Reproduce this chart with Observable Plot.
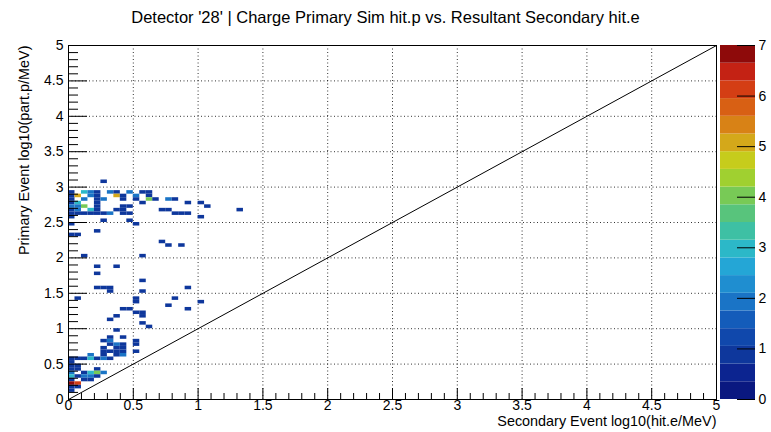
<!DOCTYPE html>
<html><head><meta charset="utf-8">
<script src="https://cdn.jsdelivr.net/npm/d3@7"></script>
<script src="https://cdn.jsdelivr.net/npm/@observablehq/plot@0.6"></script>
<style>
body{margin:0;background:#fff;font-family:"Liberation Sans",Arial,sans-serif}
#wrap{position:relative;width:771px;height:432px;overflow:hidden;background:#fff}
#title{position:absolute;left:0;top:7px;width:771px;text-align:center;font-size:16.5px;line-height:20px;color:#000;font-family:"Liberation Sans",Arial,sans-serif}
#main{position:absolute;left:0;top:0}
#bar{position:absolute;left:715px;top:0}
</style></head>
<body>
<div id="wrap"><div id="main"></div><div id="bar"></div><div id="title"></div></div>
<script>
// ---- data ----
const titleText = "Detector '28' | Charge Primary Sim hit.p vs. Resultant Secondary hit.e";
const xTitle = "Secondary Event log10(hit.e/MeV)";
const yTitle = "Primary Event log10(part.p/MeV)";
const binW = 0.05;
const axisMax = 5;
const zMax = 7;
const majorTicks = [0,0.5,1,1.5,2,2.5,3,3.5,4,4.5,5];
const minorTicks = [0.1,0.2,0.3,0.4,0.6,0.7,0.8,0.9,1.1,1.2,1.3,1.4,1.6,1.7,1.8,1.9,2.1,2.2,2.3,2.4,2.6,2.7,2.8,2.9,3.1,3.2,3.3,3.4,3.6,3.7,3.8,3.9,4.1,4.2,4.3,4.4,4.6,4.7,4.8,4.9];
const barTicks = [0,1,2,3,4,5,6,7];
const diagX = [0,5];
const diagY = [0,5];
const paletteColors = ["#0a1880","#0c2490","#0e379c","#1048ac","#145cba","#1a74c6","#1f8ed0","#24a6d6","#2cb8c8","#3ec0a4","#58c47c","#78ca56","#a0d030","#c6cc1c","#d4a81a","#d88216","#d86014","#d43e14","#c42214","#8e0a0a"];

// histogram bins: lower edge y (log10 part.p), lower edges x (log10 hit.e), entries
const binRows = [
  [3.05, [0.25], [1]],
  [2.90, [0.00,0.10,0.15,0.20,0.30,0.35,0.45,0.55,0.60], [1,3,2,1,2,1,2,1,1]],
  [2.85, [0.00,0.05,0.15,0.20,0.35,0.40,0.50,0.60], [1,5,2,1,5,1,2,1]],
  [2.80, [0.00,0.10,0.20,0.25,0.40,0.50,0.60,0.65,0.75,0.80], [1,2,1,2,1,1,4,1,2,1]],
  [2.75, [0.00,0.05,0.20,0.55,0.90,1.00], [1,3,1,1,1,1]],
  [2.70, [0.00,0.05,0.10,0.20,0.40,0.45,1.05], [2,2,4,1,1,1,1]],
  [2.65, [0.00,0.05,0.15,0.20,0.35,0.40,0.70,0.75,1.30], [1,2,3,1,1,1,1,1,1]],
  [2.60, [0.00,0.05,0.10,0.15,0.20,0.25,0.30,0.40,0.45,0.80,0.85,0.90], [1,1,1,1,1,1,2,1,1,1,1,1]],
  [2.55, [0.00,1.00], [1,1]],
  [2.50, [0.25,0.45], [1,1]],
  [2.45, [0.00,0.50], [1,1]],
  [2.35, [0.20], [1]],
  [2.30, [0.00,0.05], [1,1]],
  [2.20, [0.70], [1]],
  [2.15, [0.75,0.85], [1,1]],
  [2.00, [0.10,0.55], [1,1]],
  [1.85, [0.20,0.35], [1,1]],
  [1.75, [0.20], [1]],
  [1.65, [0.55], [1]],
  [1.55, [0.20,0.25,0.30,0.90], [1,1,1,1]],
  [1.50, [0.30,0.55], [1,1]],
  [1.40, [0.05,0.50,0.80], [1,1,1]],
  [1.35, [0.50,1.00], [1,1]],
  [1.30, [0.75], [1]],
  [1.25, [0.40,0.45,0.90], [1,1,1]],
  [1.20, [0.50,0.55], [1,1]],
  [1.15, [0.35,0.55], [1,1]],
  [1.10, [0.30], [1]],
  [1.05, [0.55], [1]],
  [1.00, [0.60], [1]],
  [0.95, [0.35], [1]],
  [0.85, [0.30,0.40], [1,1]],
  [0.80, [0.25,0.30,0.50], [1,2,1]],
  [0.75, [0.30,0.35,0.40,0.50], [1,2,1,1]],
  [0.70, [0.25,0.35,0.40], [1,1,1]],
  [0.65, [0.25,0.30,0.35,0.40,0.50], [1,1,1,1,1]],
  [0.60, [0.15,0.25,0.35,0.40], [2,1,1,2]],
  [0.55, [0.00,0.05,0.10,0.15,0.20,0.25,0.30], [1,1,1,3,1,2,1]],
  [0.50, [0.00], [1]],
  [0.45, [0.00,0.05], [1,1]],
  [0.40, [0.00,0.05,0.20], [1,1,1]],
  [0.35, [0.00,0.10,0.15,0.20,0.25], [2,1,3,4,2]],
  [0.30, [0.00,0.05,0.10,0.15,0.20], [3,1,2,2,1]],
  [0.25, [0.00,0.10,0.15], [1,1,1]],
  [0.20, [0.00,0.05], [7,6]],
  [0.15, [0.00,0.05], [1,1]],
  [0.10, [0.00], [1]]
];

// ---- build ----
const cells = binRows.flatMap(([y, xs, ns]) => xs.map((x, k) => ({x, y, n: ns[k]})));
const thresholds = d3.range(1, paletteColors.length).map(k => k * zMax / paletteColors.length);
const colorScale = {type: "threshold", domain: thresholds, range: paletteColors};
const font = "Liberation Sans, Arial, sans-serif";
const W = 771, H = 432, mL = 68, mR = 55, mT = 45, mB = 33;
const innerW = W - mL - mR, innerH = H - mT - mB;
const tickFont = 14, titleFont = 14.4;

document.getElementById("title").textContent = titleText;

const main = Plot.plot({
  width: W, height: H,
  marginLeft: mL, marginRight: mR, marginTop: mT, marginBottom: mB,
  style: {fontFamily: font, fontSize: tickFont + "px", background: "transparent", color: "#000", overflow: "visible"},
  x: {domain: [0, axisMax], axis: null},
  y: {domain: [0, axisMax], axis: null},
  color: colorScale,
  marks: [
    Plot.gridX(majorTicks, {stroke: "#000", strokeOpacity: 0.8, strokeDasharray: "1,2.5"}),
    Plot.gridY(majorTicks, {stroke: "#000", strokeOpacity: 0.8, strokeDasharray: "1,2.5"}),
    Plot.rect(cells, {x1: "x", x2: d => d.x + binW, y1: "y", y2: d => d.y + binW, fill: "n"}),
    Plot.line(diagX.map((x, i) => ({x, y: diagY[i]})), {x: "x", y: "y", stroke: "#000", strokeWidth: 1}),
    Plot.tickX(majorTicks, {x: d => d, insetTop: innerH - 11, stroke: "#000"}),
    Plot.tickX(minorTicks, {x: d => d, insetTop: innerH - 6, stroke: "#000"}),
    Plot.tickY(majorTicks, {y: d => d, insetRight: innerW - 19, stroke: "#000"}),
    Plot.tickY(minorTicks, {y: d => d, insetRight: innerW - 10, stroke: "#000"}),
    Plot.axisX(majorTicks, {tickSize: 0, tickPadding: 1, tickFormat: d => String(d), label: null, fontSize: tickFont}),
    Plot.axisY(majorTicks, {tickSize: 0, tickPadding: 5, tickFormat: d => String(d), label: null, fontSize: tickFont}),
    Plot.text([xTitle], {text: d => d, frameAnchor: "bottom-right", textAnchor: "end", dy: 26, fontSize: titleFont}),
    Plot.text([yTitle], {text: d => d, frameAnchor: "top-left", textAnchor: "end", rotate: -90, dx: -50, fontSize: titleFont}),
    Plot.frame({stroke: "#000"})
  ]
});
document.getElementById("main").append(main);

const bands = paletteColors.map((c, k) => ({lo: k * zMax / paletteColors.length, hi: (k + 1) * zMax / paletteColors.length}));
const bar = Plot.plot({
  width: 56, height: H,
  marginLeft: 5, marginRight: 16, marginTop: mT, marginBottom: mB,
  style: {fontFamily: font, fontSize: "14px", background: "transparent", color: "#000", overflow: "visible"},
  x: {domain: [0, 1], axis: null},
  y: {domain: [0, zMax], axis: null},
  color: colorScale,
  marks: [
    Plot.rect(bands, {x1: 0, x2: 1, y1: "lo", y2: "hi", fill: d => (d.lo + d.hi) / 2}),
    Plot.tickY(barTicks, {y: d => d, insetLeft: 17, stroke: "#000"}),
    Plot.axisY(barTicks, {anchor: "right", tickSize: 0, tickPadding: 3, tickFormat: d => String(d), label: null, fontSize: 14})
  ]
});
document.getElementById("bar").append(bar);
</script>
</body></html>
